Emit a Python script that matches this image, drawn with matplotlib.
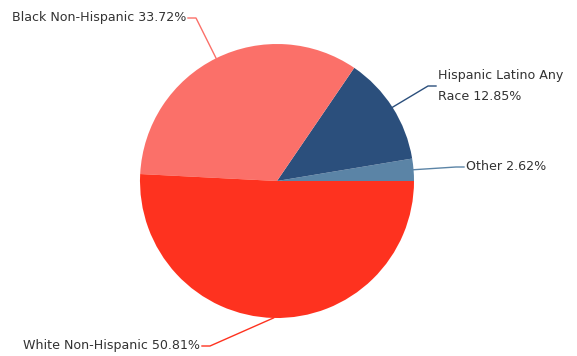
import numpy as np
import matplotlib.pyplot as plt

# slices, counterclockwise from 3 o'clock
labels = ['Other', 'Hispanic Latino Any\nRace', 'Black Non-Hispanic', 'White Non-Hispanic']
shares = [2.62, 12.85, 33.72, 50.81]
colors = ['#5b84a6', '#2b4f7c', '#fb7069', '#fe321f']

fig = plt.figure(figsize=(5.77, 3.56), dpi=100)
ax = fig.add_axes([0, 0, 1, 1])

cx, cy, r = 277, 356 - 181, 137
wedges, _ = ax.pie(shares, colors=colors, startangle=0, counterclock=True,
                   center=(cx, cy), radius=r, frame=True,
                   wedgeprops=dict(linewidth=0))
ax.set_xlim(0, 577)
ax.set_ylim(0, 356)
ax.set_aspect('equal')
ax.axis('off')

# label anchor (text end), row and elbow x, in pixels from top-left
label_pos = [(466, 167, 'left', 456), (438, 86, 'left', 428),
             (186, 18, 'right', 196), (200, 346, 'right', 210)]

for w, lab, val, col, (tx, ty, ha, ex) in zip(wedges, labels, shares, colors, label_pos):
    mid = np.deg2rad((w.theta1 + w.theta2) / 2)
    px = cx + r * np.cos(mid)
    py = cy + r * np.sin(mid)
    ty_d = 356 - ty
    ax.plot([px, ex, tx + (2 if ha == 'right' else -2)], [py, ty_d, ty_d],
            color=col, lw=1)
    ax.text(tx, ty_d, f"{lab} {val:.2f}%", ha=ha, va='center',
            fontsize=9.1, color='#333333', linespacing=1.75)

fig.savefig('out.png', dpi=100)
